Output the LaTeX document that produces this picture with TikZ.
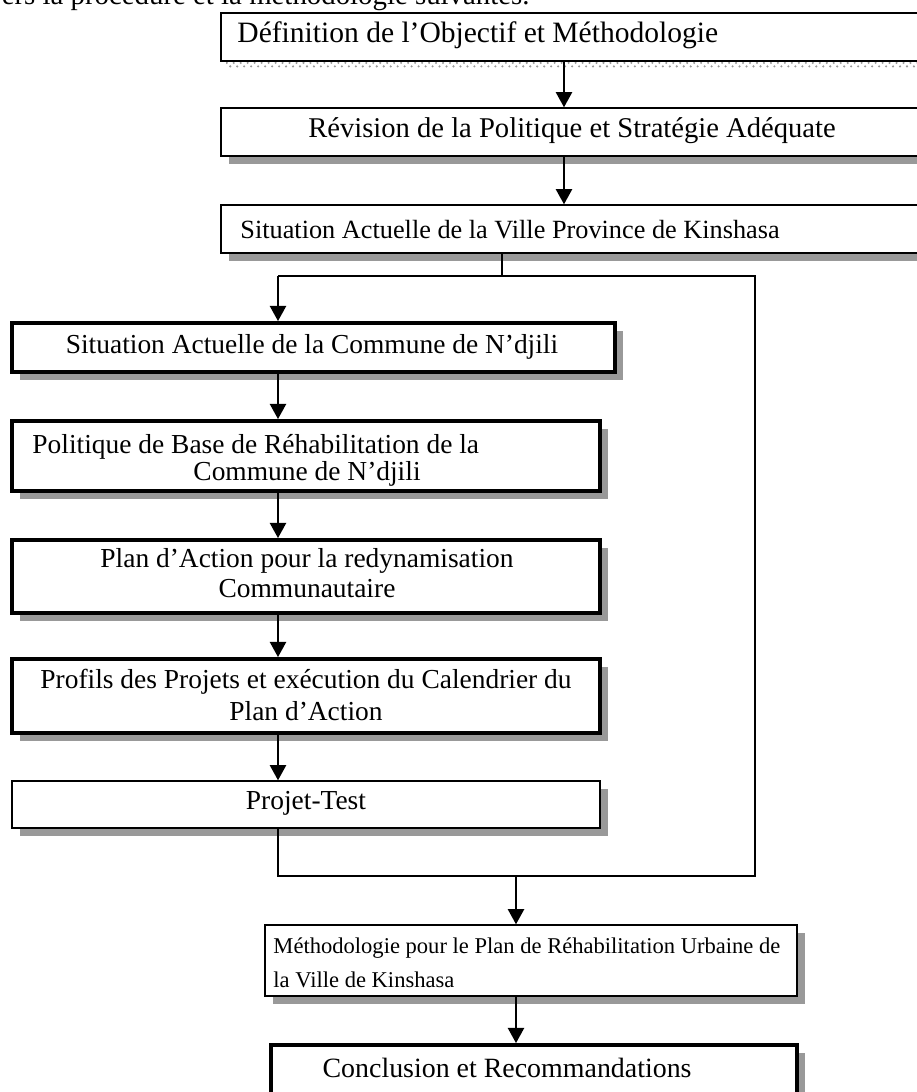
\documentclass[tikz,border=0pt]{standalone}
\usepackage{fontspec}
\setmainfont{Liberation Serif}
\usetikzlibrary{arrows.meta,shadows,fit,patterns}
\definecolor{shgray}{RGB}{153,153,153}
\tikzset{
  stdbox/.style={draw=black, fill=white, line width=0.65pt, inner sep=0pt,
    general shadow={fill=shgray, shadow xshift=3.44pt, shadow yshift=-3.44pt}},
  heavybox/.style={stdbox, line width=1.7pt},
  plainbox/.style={draw=black, fill=white, line width=0.65pt, inner sep=0pt},
  conn/.style={line width=0.65pt},
  arr/.style={conn, -{Triangle[length=6.5pt,width=7pt]}},
  lbl/.style={inner sep=0pt},
  fA/.style={font=\fontsize{11.8}{13}\selectfont},
}
\begin{document}
\begin{tikzpicture}[x=0.43pt,y=-0.43pt]
\useasboundingbox (0,0) rectangle (917,1092);
\clip (0,0) rectangle (917,1092);
% header line (cut off at top, as in the reference)
\node[lbl, anchor=base east, font=\fontsize{12.4}{15}\selectfont] (hdr) at (530,4) {ers la procédure et la méthodologie suivantes.};
% box 1 with hatched shadow
\fill[pattern=crosshatch dots, pattern color=gray!80] (226,61) rectangle (935,67);
\node[plainbox, fit={(221,13) (935,61)}] (b1) {};
\node[lbl, anchor=west, font=\fontsize{12.7}{14}\selectfont] (b1t) at (237,35) {Définition de l’Objectif et Méthodologie};
% box 2
\node[stdbox, fit={(221,108) (935,156)}] (b2) {};
\node[lbl, font=\fontsize{12.3}{14}\selectfont] (b2t) at (572,131) {Révision de la Politique et Stratégie Adéquate};
% box 3
\node[stdbox, fit={(221,205) (935,253)}] (b3) {};
\node[lbl, anchor=west, font=\fontsize{11.3}{13}\selectfont] (b3t) at (240,230) {Situation Actuelle de la Ville Province de Kinshasa};
% left column
\node[heavybox, fit={(12,323) (615,372)}] (b4) {};
\node[lbl, fA] (b4t) at (312,347) {Situation Actuelle de la Commune de N’djili};
\node[heavybox, fit={(12,421) (600,491)}] (b5) {};
\node[lbl, anchor=west, fA] (b5a) at (32,447) {Politique de Base de Réhabilitation de la};
\node[lbl, anchor=west, fA] (b5b) at (193,474) {Commune de N’djili};
\node[heavybox, fit={(12,540) (600,613)}] (b6) {};
\node[lbl, fA] (b6a) at (307,561) {Plan d’Action pour la redynamisation};
\node[lbl, fA] (b6b) at (307,589) {Communautaire};
\node[heavybox, fit={(12,659) (600,733)}] (b7) {};
\node[lbl, fA] (b7a) at (306,682) {Profils des Projets et exécution du Calendrier du};
\node[lbl, fA] (b7b) at (306,711) {Plan d’Action};
\node[stdbox, fit={(12,781) (600,828)}] (b8) {};
\node[lbl, fA] (b8t) at (306,803) {Projet-Test};
% bottom boxes
\node[stdbox, fit={(265,925) (797,996)}] (b9) {};
\node[lbl, anchor=west, font=\fontsize{9.7}{12}\selectfont] (b9a) at (273,948) {Méthodologie pour le Plan de Réhabilitation Urbaine de};
\node[lbl, anchor=west, font=\fontsize{9.7}{12}\selectfont] (b9b) at (273,980) {la Ville de Kinshasa};
\node[heavybox, fit={(271,1045) (797,1110)}] (b10) {};
\node[lbl, anchor=east, font=\fontsize{12}{14}\selectfont] (b10t) at (692,1068) {Conclusion et Recommandations};
% connector coordinates
\coordinate (colA) at (564,0);
\coordinate (colB) at (502,0);
\coordinate (jT) at (502,276);
\coordinate (tl) at (278,276);
\coordinate (tr) at (755,276);
\coordinate (br) at (755,876);
\coordinate (bl) at (278,876);
\coordinate (bm) at (516,876);
% connectors
\draw[arr] (b1.south -| colA) -- (b2.north -| colA);
\draw[arr] (b2.south -| colA) -- (b3.north -| colA);
\draw[conn] (b3.south -| colB) -- (jT);
\draw[conn] (tl) -- (tr) -- (br) -- (bl) -- (b8.south -| bl);
\draw[arr] (tl) -- (b4.north -| tl);
\draw[arr] (b4.south -| tl) -- (b5.north -| tl);
\draw[arr] (b5.south -| tl) -- (b6.north -| tl);
\draw[arr] (b6.south -| tl) -- (b7.north -| tl);
\draw[arr] (b7.south -| tl) -- (b8.north -| tl);
\draw[arr] (bm) -- (b9.north -| bm);
\draw[arr] (b9.south -| bm) -- (b10.north -| bm);
\end{tikzpicture}
\end{document}
